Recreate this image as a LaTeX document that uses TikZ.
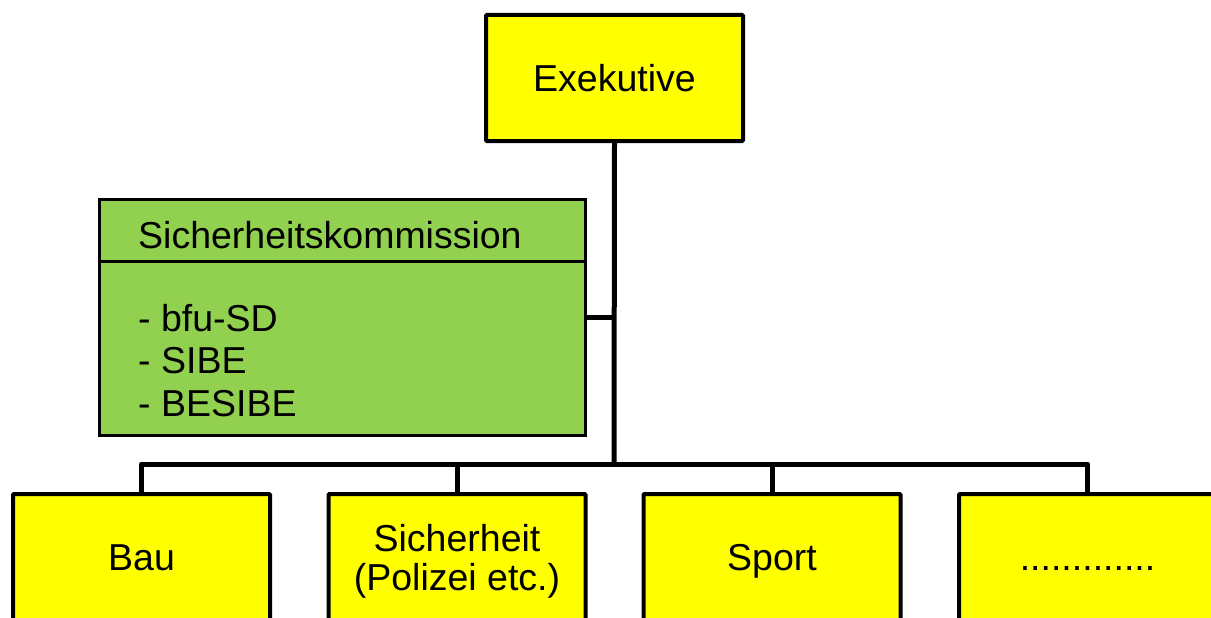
\documentclass[tikz,border=0pt]{standalone}
\usepackage{fontspec}
\setmainfont{Liberation Sans}
\definecolor{boxyellow}{HTML}{FFFF00}
\definecolor{boxgreen}{HTML}{92D050}
\begin{document}
\begin{tikzpicture}[x=1pt,y=-1pt,
  ybox/.style={draw=black,line width=4pt,fill=boxyellow,rectangle,rounded corners=1pt,
    minimum width=257pt,minimum height=126pt,inner sep=0pt,align=center,
    font=\fontsize{37.5}{39}\selectfont},
  oneline/.style={text height=27pt,text depth=0pt},
  plain/.style={inner sep=0pt,align=center,font=\fontsize{37.5}{39}\selectfont},
  gbox/.style={draw=black,line width=3pt,fill=boxgreen,rectangle,
    minimum width=486pt,minimum height=236pt,inner sep=0pt},
  txt/.style={inner sep=0pt,anchor=west,align=left,font=\fontsize{37.5}{42.5}\selectfont},
  conn/.style={draw=black,line width=5pt,line join=round}]
\useasboundingbox (0,0) rectangle (1211,618);
\clip (0,0) rectangle (1211,618);
\coordinate (bus) at (614,464);
% nodes
\node[ybox,oneline] (exek) at (614.5,78) {Exekutive};
\node[gbox] (green) at (342.5,317.5) {};
\node[ybox,oneline] (bau) at (141.5,557) {Bau};
\node[ybox] (sich) at (457,557) {};
\node[plain] (sichtxt) at (457,561) {Sicherheit\\(Polizei etc.)};
\node[ybox,oneline] (sport) at (772,557) {Sport};
\node[ybox,oneline] (more) at (1087.5,557) {.............};
% green box content
\draw[line width=3pt] (green.west |- 0,261) -- (green.east |- 0,261);
\node[txt] (title) at (138,235) {Sicherheitskommission};
\node[txt,anchor=north west] (list) at (138,304) {- bfu-SD\\- SIBE\\- BESIBE};
% connectors
\draw[conn] (exek.south) -- (bus);
\draw[conn] (green.east) -- (green.east -| exek.south);
\draw[conn] (bus) -| (bau.north);
\draw[conn] (bus) -| (sich.north);
\draw[conn] (bus) -| (sport.north);
\draw[conn] (bus) -| (more.north);
\end{tikzpicture}
\end{document}
